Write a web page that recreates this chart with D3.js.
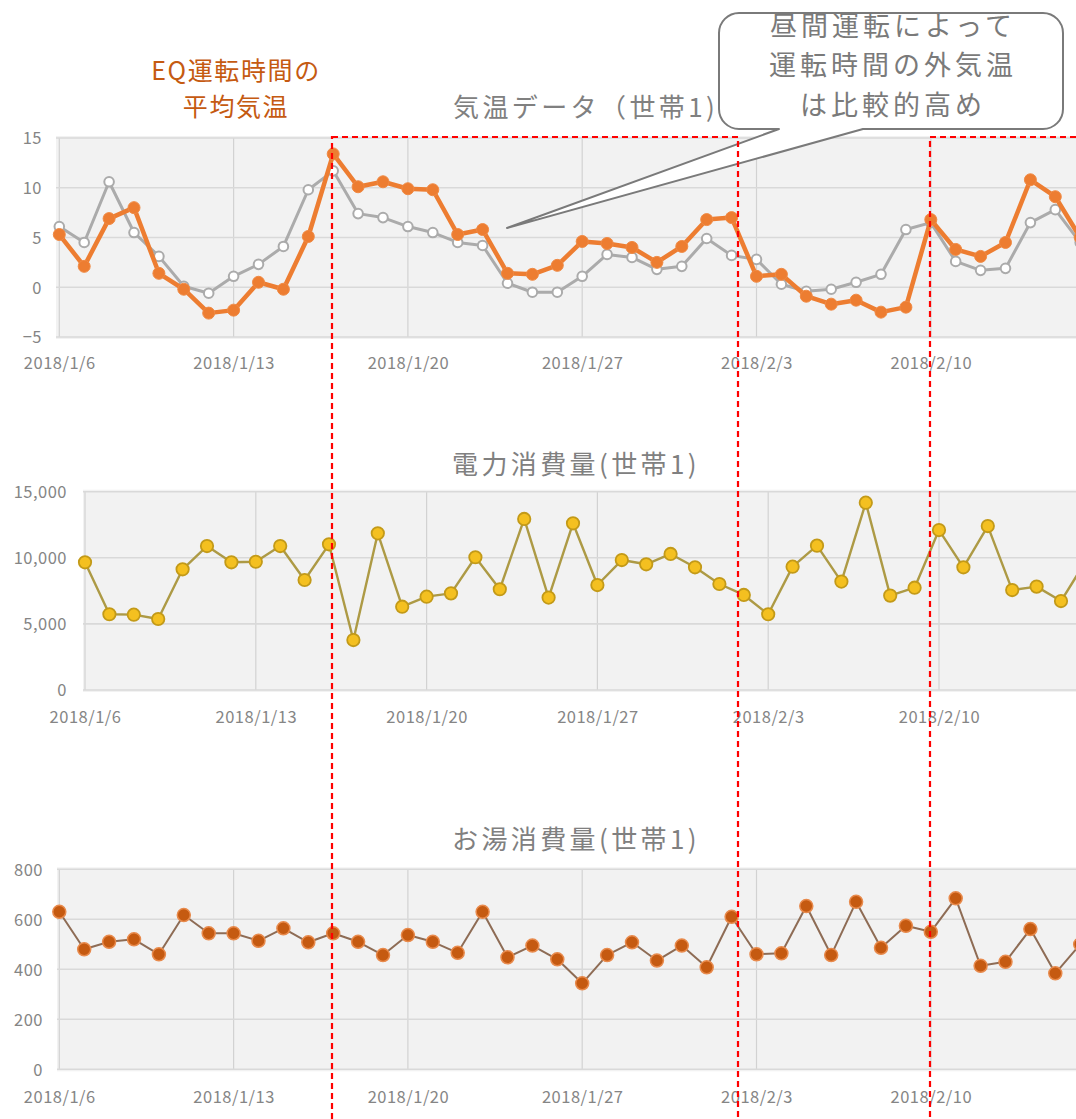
<!DOCTYPE html>
<html>
<head>
<meta charset="utf-8">
<script src="https://cdn.jsdelivr.net/npm/d3@7"></script>
<style>
	html, body { margin: 0; padding: 0; background: #ffffff; }
	svg { display: block; font-family: "Noto Sans CJK JP", "Noto Sans", sans-serif; }
</style>
</head>
<body>
<svg id="chart" width="1076" height="1119"></svg>
<script>

const START_DAY = new Date(2018, 0, 6);
const END_DAY = new Date(2018, 1, 17);

// one value per day, 2018/1/6 .. 2018/2/16
const DATES = d3.timeDay.range(START_DAY, END_DAY);

const TEMP_EQ = [
	5.3, 2.1, 6.9, 8.0, 1.4, -0.2, -2.6, -2.3, 0.5, -0.2, 5.1, 13.4,
	10.1, 10.6, 9.9, 9.8, 5.3, 5.8, 1.4, 1.3, 2.2, 4.6, 4.4, 4.0, 2.5, 4.1, 6.8, 7.0,
	1.1, 1.3, -0.9, -1.7, -1.3, -2.5, -2.0, 6.8, 3.8, 3.1, 4.5, 10.8, 9.1, 5.0
];

const TEMP_DAY = [
	6.1, 4.5, 10.6, 5.5, 3.1, 0.1, -0.6, 1.1, 2.3, 4.1, 9.8, 11.7,
	7.4, 7.0, 6.1, 5.5, 4.5, 4.2, 0.4, -0.5, -0.5, 1.1, 3.3, 3.0, 1.8, 2.1, 4.9, 3.2,
	2.8, 0.3, -0.4, -0.2, 0.5, 1.3, 5.8, 6.5, 2.6, 1.7, 1.9, 6.5, 7.8, 4.5
];

const POWER = [
	9660, 5730, 5700, 5370, 9130, 10890, 9660, 9700, 10890, 8320, 11020, 3780,
	11850, 6300, 7060, 7310, 10040, 7620, 12940, 6990, 12610, 7940, 9830, 9510, 10290, 9280, 8020,
	7190, 5730, 9330, 10920, 8200, 14170, 7140, 7740, 12100, 9280, 12400, 7560, 7820, 6730, 9700
];

const HOT_WATER = [
	630, 480, 510, 520, 460, 617, 544, 544, 514, 564, 508, 544,
	510, 457, 537, 510, 466, 630, 448, 495, 440, 344, 457, 508, 435, 495, 408, 610,
	460, 464, 653, 457, 670, 486, 574, 550, 684, 414, 430, 561, 384, 500
];

const TEMP_TICKS = [-5, 0, 5, 10, 15];
const POWER_TICKS = [0, 5000, 10000, 15000];
const WATER_TICKS = [0, 200, 400, 600, 800];

const TITLES = ["気温データ（世帯1)", "電力消費量(世帯1)", "お湯消費量(世帯1)"];
const NOTE_EQ = ["EQ運転時間の", "平均気温"];
const NOTE_CALLOUT = ["昼間運転によって", "運転時間の外気温", "は比較的高め"];

const LABEL_COLOR = "#858585";
const GRID_COLOR = "#d9d9d9";
const PLOT_BG = "#f2f2f2";

const svg = d3.select("#chart");

class LineChart {

	constructor(args){
		this.args = args;
		this.g = svg.append("g");

		this.x = d3.scaleTime()
			.domain([DATES[0], DATES[DATES.length - 1]])
			.range([args.x0, args.x0 + (DATES.length - 1) * args.dayWidth]);
		this.y = d3.scaleLinear()
			.domain(args.yDomain)
			.range([args.bottom, args.top]);

		// the chart marks every 7th day starting at 1/6 (saturdays)
		this.weeks = DATES.filter((d, i) => i % 7 == 0);

		this.drawPlot();
		this.drawAxes();
		this.drawTitle();
	}

	drawPlot(){
		let a = this.args;
		this.g.append("rect")
			.attr("x", a.plotLeft)
			.attr("y", a.top - 2)
			.attr("width", 1100 - a.plotLeft)
			.attr("height", a.bottom - a.top + 4)
			.attr("fill", PLOT_BG);

		/*
		Weekly vertical grid and horizontal value grid.
		*/
		this.g.append("g")
			.selectAll("line")
			.data(this.weeks)
			.join("line")
			.attr("x1", d => this.x(d))
			.attr("x2", d => this.x(d))
			.attr("y1", a.top)
			.attr("y2", a.bottom)
			.attr("stroke", "#d2d2d2")
			.attr("stroke-width", 1.2);

		this.g.append("g")
			.selectAll("line")
			.data(a.yTicks)
			.join("line")
			.attr("x1", a.plotLeft)
			.attr("x2", 1100)
			.attr("y1", d => this.y(d))
			.attr("y2", d => this.y(d))
			.attr("stroke", GRID_COLOR)
			.attr("stroke-width", 1.6);
	}

	drawAxes(){
		let a = this.args;
		let fmt = d3.timeFormat("%Y/%-m/%-d");

		let yAxis = d3.axisLeft(this.y)
			.tickValues(a.yTicks)
			.tickFormat(a.yFormat)
			.tickSize(0)
			.tickPadding(0);
		let yG = this.g.append("g")
			.attr("transform", "translate(" + a.yLabelX + ",0)")
			.call(yAxis);

		let xAxis = d3.axisBottom(this.x)
			.tickValues(this.weeks)
			.tickFormat(fmt)
			.tickSize(0)
			.tickPadding(0);
		let xG = this.g.append("g")
			.attr("transform", "translate(0," + a.xLabelY + ")")
			.call(xAxis);

		[yG, xG].forEach(ax => {
			ax.select(".domain").remove();
			ax.selectAll("text")
				.attr("fill", LABEL_COLOR)
				.attr("font-family", "'Noto Sans CJK JP', sans-serif")
				.attr("font-size", 16.5)
				.attr("letter-spacing", 0.5)
				.attr("dy", "0.35em");
		});
	}

	drawTitle(){
		let a = this.args;
		this.g.append("text")
			.attr("x", a.titleX)
			.attr("y", a.titleY)
			.attr("dy", "0.35em")
			.attr("fill", "#808080")
			.attr("font-size", 26)
			.attr("letter-spacing", 3.4)
			.text(a.title);
	}

	addSeries(values, style){
		let pts = values.map((v, i) => [DATES[i], v]);
		let line = d3.line()
			.x(d => this.x(d[0]))
			.y(d => this.y(d[1]));

		this.g.append("path")
			.datum(pts)
			.attr("d", line)
			.attr("fill", "none")
			.attr("stroke", style.line)
			.attr("stroke-width", style.lineWidth)
			.attr("stroke-linejoin", "round");

		this.g.append("g")
			.selectAll("circle")
			.data(pts)
			.join("circle")
			.attr("cx", d => this.x(d[0]))
			.attr("cy", d => this.y(d[1]))
			.attr("r", style.r)
			.attr("fill", style.fill)
			.attr("stroke", style.stroke)
			.attr("stroke-width", style.strokeWidth);
	}
}

/*
Stacked label lines, one text per line
*/
function multiLine(parent, lines, x, y, lineHeight){
	return parent.append("g")
		.selectAll("text")
		.data(lines)
		.join("text")
		.attr("x", x)
		.attr("y", (d, i) => y + i * lineHeight)
		.attr("dy", "0.35em")
		.attr("text-anchor", "middle")
		.text(d => d);
}

/*
Temperature chart
*/
let tempChart = new LineChart({
	x0: 59.3, dayWidth: 24.9, plotLeft: 56, top: 138, bottom: 337,
	yDomain: [-5, 15], yTicks: TEMP_TICKS, yFormat: d3.format("d"),
	yLabelX: 42, xLabelY: 363, title: TITLES[0], titleX: 453, titleY: 108
});
tempChart.addSeries(TEMP_DAY, {line: "#ababab", lineWidth: 3, r: 4.8, fill: "#ffffff", stroke: "#ababab", strokeWidth: 2});
tempChart.addSeries(TEMP_EQ, {line: "#ed7d31", lineWidth: 4.5, r: 6, fill: "#ed7d31", stroke: "#f08a44", strokeWidth: 1});

/*
Power consumption chart
*/
let powerChart = new LineChart({
	x0: 85, dayWidth: 24.4, plotLeft: 83, top: 491.7, bottom: 690,
	yDomain: [0, 15000], yTicks: POWER_TICKS, yFormat: d3.format(","),
	yLabelX: 67, xLabelY: 717, title: TITLES[1], titleX: 452, titleY: 465
});
powerChart.addSeries(POWER, {line: "#ad9a45", lineWidth: 2.4, r: 6.2, fill: "#f4c020", stroke: "#c39a18", strokeWidth: 1.8});

/*
Hot water chart
*/
let waterChart = new LineChart({
	x0: 59.3, dayWidth: 24.9, plotLeft: 57, top: 869.3, bottom: 1069.3,
	yDomain: [0, 800], yTicks: WATER_TICKS, yFormat: d3.format("d"),
	yLabelX: 43, xLabelY: 1097, title: TITLES[2], titleX: 452, titleY: 840
});
waterChart.addSeries(HOT_WATER, {line: "#8e6c55", lineWidth: 2, r: 6.5, fill: "#c55a11", stroke: "#e88a4c", strokeWidth: 1.5});

/*
Orange note on the left
*/
multiLine(svg, NOTE_EQ, 236, 71, 36.5)
	.attr("fill", "#c55a11")
	.attr("font-size", 25)
	.attr("letter-spacing", 1.6);

/*
Callout with tail pointing into the temperature chart
*/
let box = {left: 719, right: 1063, top: 13, bottom: 129, r: 20};
let tail = {a: 779, b: 863, tipX: 507, tipY: 228};
let p = d3.path();
p.moveTo(box.left + box.r, box.top);
p.lineTo(box.right - box.r, box.top);
p.arcTo(box.right, box.top, box.right, box.top + box.r, box.r);
p.lineTo(box.right, box.bottom - box.r);
p.arcTo(box.right, box.bottom, box.right - box.r, box.bottom, box.r);
p.lineTo(tail.b, box.bottom);
p.lineTo(tail.tipX, tail.tipY);
p.lineTo(tail.a, box.bottom);
p.lineTo(box.left + box.r, box.bottom);
p.arcTo(box.left, box.bottom, box.left, box.bottom - box.r, box.r);
p.lineTo(box.left, box.top + box.r);
p.arcTo(box.left, box.top, box.left + box.r, box.top, box.r);
p.closePath();

svg.append("defs").append("clipPath")
	.attr("id", "callout-clip")
	.append("rect")
	.attr("x", box.left)
	.attr("y", box.top + 1)
	.attr("width", box.right - box.left)
	.attr("height", box.bottom - box.top);

svg.append("path")
	.attr("d", p.toString())
	.attr("fill", "#ffffff")
	.attr("stroke", "#7a7a7a")
	.attr("stroke-width", 2)
	.attr("stroke-linejoin", "round");

multiLine(svg.append("g").attr("clip-path", "url(#callout-clip)"), NOTE_CALLOUT, (box.left + box.right) / 2 + 2, 26.5, 39.5)
	.attr("fill", "#7a7a7a")
	.attr("font-size", 27)
	.attr("letter-spacing", 4);

/*
Red dashed frames (run past the bottom and right edges)
*/
let frames = [[332, 738], [930, 1100]];
svg.append("g")
	.selectAll("rect")
	.data(frames)
	.join("rect")
	.attr("x", d => d[0])
	.attr("y", 137)
	.attr("width", d => d[1] - d[0])
	.attr("height", 1050)
	.attr("fill", "none")
	.attr("stroke", "#ff0000")
	.attr("stroke-width", 2.2)
	.attr("stroke-dasharray", "6,4");

</script>
</body>
</html>
